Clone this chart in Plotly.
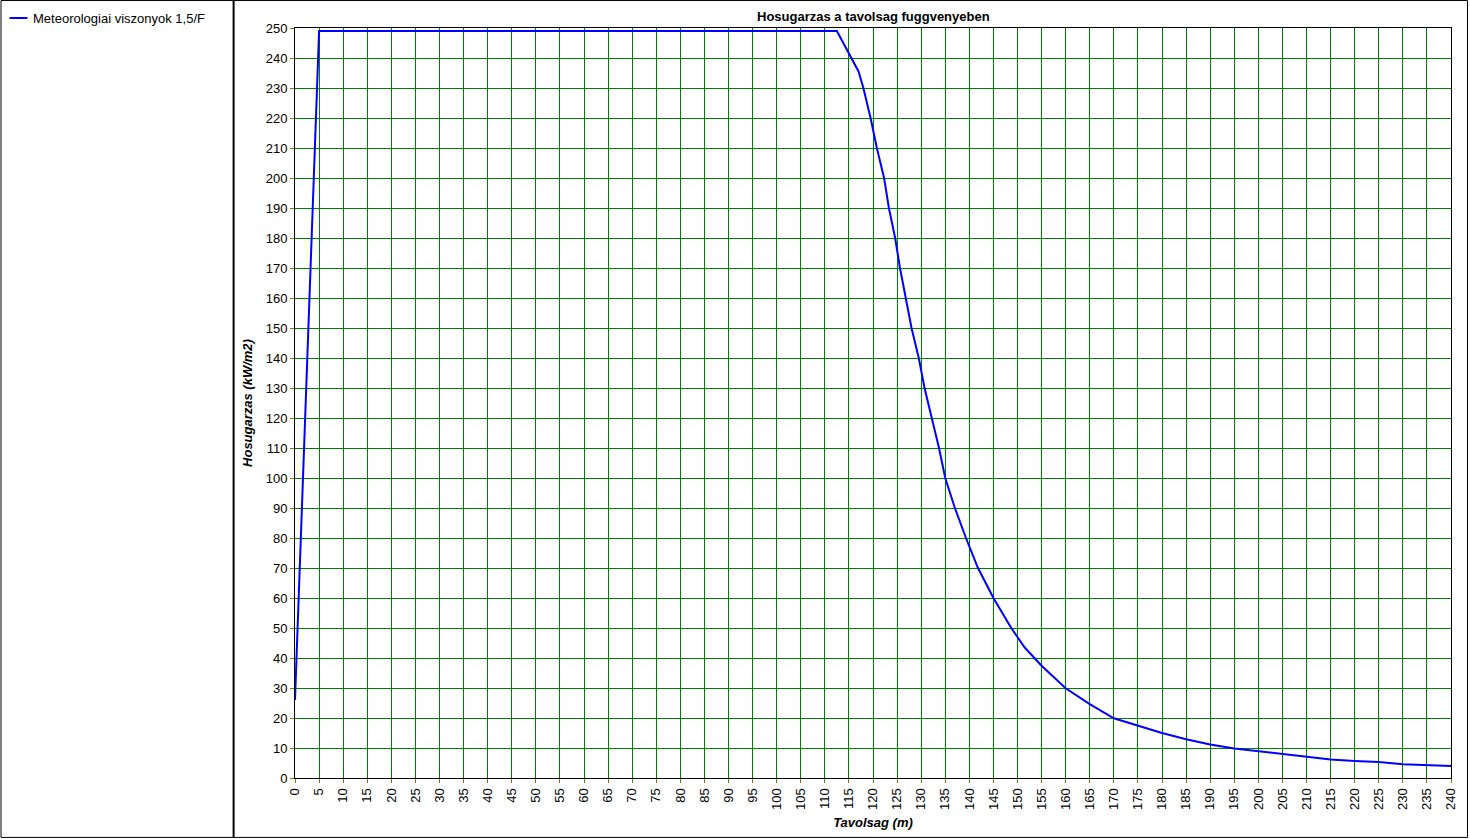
import plotly.graph_objects as go

# Data
distance_m = [0, 1, 2, 3, 4, 5, 112.5, 115.4, 117, 118, 119.5, 120.8, 122.3, 123.3,
              124.6, 125.6, 126.8, 128, 129.5, 130.7, 132.2, 133.7, 135, 137, 139.3,
              141.8, 145, 148.7, 151.5, 155, 160, 165, 170, 175, 180, 185, 190, 195,
              200, 205, 210, 215, 220, 225, 230, 235, 240]
heat_flux = [26, 70, 112, 155, 203, 249, 249, 240, 235.5, 230, 220, 210, 200, 190,
             180, 170, 160, 150, 140, 130, 120, 110, 100, 90, 80,
             70, 60, 50, 43.5, 37.4, 29.9, 24.6, 19.9, 17.4, 15.0, 12.9, 11.2, 9.8,
             8.9, 7.8, 6.9, 6.2, 5.7, 5.3, 4.6, 4.3, 4.0]
series_name = "Meteorologiai viszonyok 1,5/F"
chart_title = "Hosugarzas a tavolsag fuggvenyeben"
x_title = "Tavolsag (m)"
y_title = "Hosugarzas (kW/m2)"

W, H = 1470, 839
L, R, T, B = 295, 1453, 28, 779  # plot area in pixels
FONT = "Liberation Sans, Arial, sans-serif"


def px(x):
    return (x - L) / (R - L)


def py(y):
    return (B - y) / (B - T)


fig = go.Figure()
fig.add_trace(go.Scatter(
    x=distance_m, y=heat_flux, mode="lines", name=series_name,
    line=dict(color="#0000FF", width=2), showlegend=False,
))

shapes = [
    # outer frame
    dict(type="rect", xref="paper", yref="paper", x0=px(0.5), x1=px(W - 0.5),
         y0=py(H - 0.5), y1=py(0.5), line=dict(color="black", width=1)),
    # divider between legend panel and chart
    dict(type="line", xref="paper", yref="paper", x0=px(233.5), x1=px(233.5),
         y0=py(H), y1=py(0), line=dict(color="black", width=2)),
    # legend sample
    dict(type="line", xref="paper", yref="paper", x0=px(9), x1=px(27),
         y0=py(18), y1=py(18), line=dict(color="#0000FF", width=2)),
]

annotations = [
    dict(text=series_name, xref="paper", yref="paper", x=px(31), y=py(18),
         xanchor="left", yanchor="middle", showarrow=False,
         font=dict(family=FONT, size=13, color="black")),
    dict(text="<b>" + chart_title + "</b>", xref="paper", yref="paper",
         x=0.5, y=py(16), xanchor="center", yanchor="middle", showarrow=False,
         font=dict(family=FONT, size=13, color="black")),
]

fig.update_layout(
    width=W, height=H,
    margin=dict(l=L, r=W - R, t=T, b=H - B, pad=0),
    paper_bgcolor="white", plot_bgcolor="white",
    font=dict(family=FONT, size=13, color="black"),
    shapes=shapes, annotations=annotations,
    showlegend=False,
)

fig.update_xaxes(
    range=[0, 240], tick0=0, dtick=5, tickangle=-90,
    showgrid=True, gridcolor="#008000", gridwidth=1,
    showline=True, linecolor="black", linewidth=1, mirror=True,
    ticks="outside", ticklen=4, tickcolor="#808000",
    zeroline=False,
    title=dict(text="<b><i>" + x_title + "</i></b>", standoff=8,
               font=dict(family=FONT, size=13)),
    tickfont=dict(family=FONT, size=13),
)
fig.update_yaxes(
    range=[0, 250], tick0=0, dtick=10,
    showgrid=True, gridcolor="#008000", gridwidth=1,
    showline=True, linecolor="black", linewidth=1, mirror=True,
    ticks="outside", ticklen=4, tickcolor="#808000",
    zeroline=False,
    title=dict(text="<b><i>" + y_title + "</i></b>", standoff=10,
               font=dict(family=FONT, size=13)),
    tickfont=dict(family=FONT, size=13),
)

fig.write_html("out.html", config={"displayModeBar": False},
               post_script="document.body.style.margin='0';")
